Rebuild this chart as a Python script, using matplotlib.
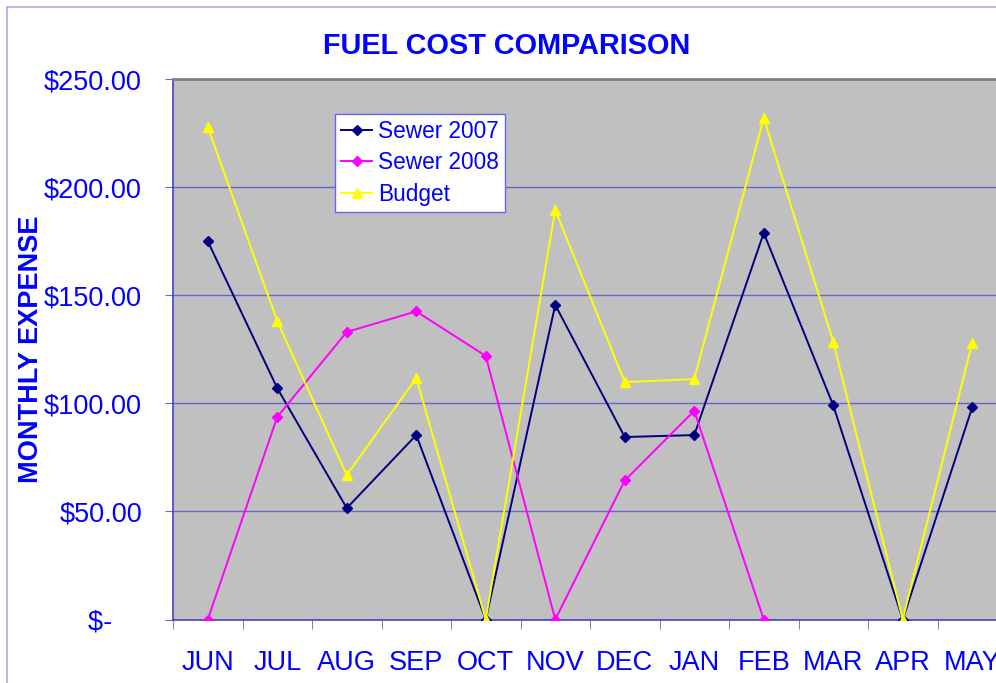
import numpy as np
import matplotlib.pyplot as plt
from matplotlib.patches import Rectangle
from matplotlib.ticker import FuncFormatter

plt.rcParams['font.family'] = ['Liberation Sans', 'DejaVu Sans']

# chart data
months = ['JUN', 'JUL', 'AUG', 'SEP', 'OCT', 'NOV', 'DEC', 'JAN', 'FEB', 'MAR', 'APR', 'MAY']
sewer_2007 = [175.0, 107.0, 51.5, 85.3, 0.0, 145.5, 84.4, 85.3, 178.8, 99.0, 0.0, 98.2]
sewer_2008 = [0.0, 93.7, 133.0, 142.5, 121.9, 0.0, 64.3, 96.5, 0.0, np.nan, np.nan, np.nan]
budget = [227.8, 138.0, 66.8, 111.7, 0.0, 189.4, 109.8, 111.2, 232.0, 128.4, 0.0, 128.0]
y_ticks = [0, 50, 100, 150, 200, 250]

blue = '#0000FF'
grid_c = '#6666CC'

fig = plt.figure(figsize=(9.96, 6.83), dpi=100)
W, H = 996, 683

# chart area border (cut off at right/bottom like the reference)
fig.patches.append(Rectangle((7 / W, -0.1), 1.2, (H - 7) / H + 0.1,
                             transform=fig.transFigure, fill=False,
                             edgecolor='#A8A8F0', linewidth=1.2))

ax = fig.add_axes([173 / W, (H - 619.5) / H, (1007 - 173) / W, (619.5 - 79) / H])
ax.set_facecolor('#C0C0C0')

x = np.arange(len(months))
ax.plot(x, sewer_2007, color='#000080', marker='D', markersize=5, linewidth=1.4,
        label='Sewer 2007', zorder=3)
ax.plot(x, sewer_2008, color='#FF00FF', marker='D', markersize=5, linewidth=1.4,
        label='Sewer 2008', zorder=3)
ax.plot(x, budget, color='#FFFF00', marker='^', markersize=7, linewidth=1.4,
        label='Budget', zorder=3)

ax.set_xlim(-0.5, len(months) - 0.5)
ax.set_ylim(0, 250)

ax.set_yticks(y_ticks)
ax.yaxis.set_major_formatter(FuncFormatter(lambda v, p: '$-    ' if v == 0 else f'${v:,.2f}'))
ax.yaxis.grid(True, color=grid_c, linewidth=1.0)
ax.set_axisbelow(True)

ax.set_xticks(x)
ax.set_xticklabels(months)
ax.set_xticks(np.arange(-0.5, len(months)), minor=True)
ax.tick_params(axis='x', which='major', length=0, pad=22, labelsize=19.5, labelcolor=blue)
ax.tick_params(axis='x', which='minor', length=6.5, color=grid_c, direction='out')
ax.tick_params(axis='y', length=5.8, color=grid_c, pad=16.5, labelsize=19.5, labelcolor=blue)

for side in ['left', 'bottom']:
    ax.spines[side].set_color('#4444BB')
    ax.spines[side].set_linewidth(1.2)
ax.spines['top'].set_color('#808080')
ax.spines['top'].set_linewidth(2)
ax.spines['right'].set_visible(False)

fig.text(507 / W, 1 - 46 / H, 'FUEL COST COMPARISON', ha='center', va='center',
         fontsize=20.8, fontweight='bold', color=blue)
fig.text(31 / W, 1 - 349 / H, 'MONTHLY EXPENSE', ha='center', va='center',
         rotation=90, fontsize=19.5, fontweight='bold', color=blue)

leg = ax.legend(loc='upper left', bbox_to_anchor=(335 / W, 1 - 114 / H),
                bbox_transform=fig.transFigure, fontsize=16.3, frameon=True,
                fancybox=False, framealpha=1, edgecolor='#6666EE',
                borderpad=0.25, labelspacing=0.38, handlelength=1.4,
                handletextpad=0.25, borderaxespad=0)
for t in leg.get_texts():
    t.set_color(blue)

fig.savefig('out.png', dpi=100)
